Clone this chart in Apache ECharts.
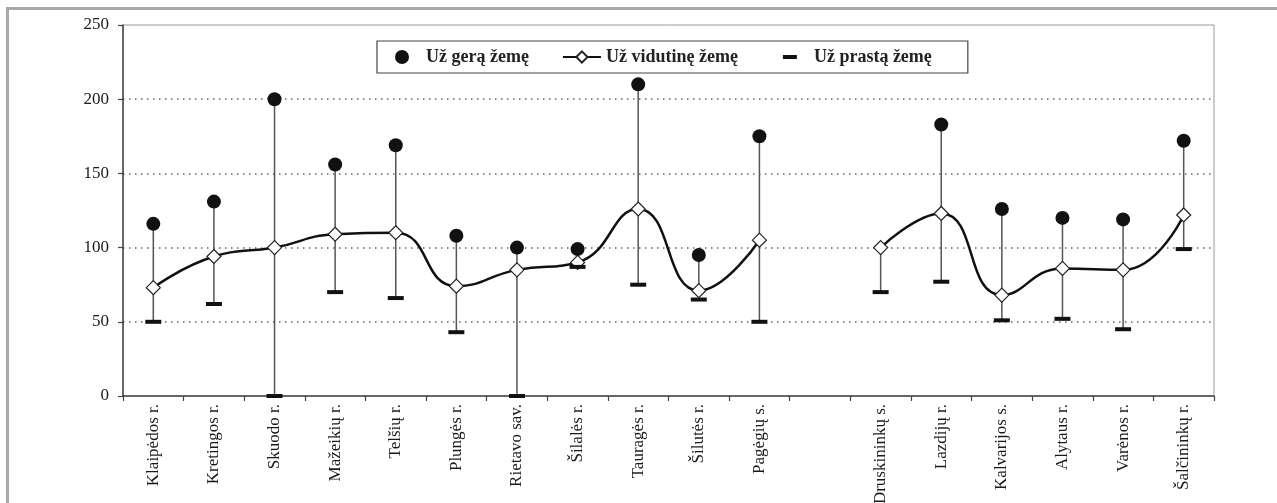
<!DOCTYPE html>
<html>
<head>
<meta charset="utf-8">
<script src="https://cdn.jsdelivr.net/npm/echarts@6/dist/echarts.min.js"></script>
<style>
  html, body { margin: 0; padding: 0; background: #fff; }
  #chart { width: 1277px; height: 503px; }
</style>
</head>
<body>
<div id="chart"></div>
<script>
const categories = ['Klaipėdos r.', 'Kretingos r.', 'Skuodo r.', 'Mažeikių r.', 'Telšių r.', 'Plungės r.', 'Rietavo sav.', 'Šilalės r.', 'Tauragės r.', 'Šilutės r.', 'Pagėgių s.', '', 'Druskininkų s.', 'Lazdijų r.', 'Kalvarijos s.', 'Alytaus r.', 'Varėnos r.', 'Šalčininkų r.'];
const goodLand   = [116, 131, 200, 156, 169, 108, 100, 99, 210, 95, 175, null, null, 183, 126, 120, 119, 172];
const mediumLand = [73, 94, 100, 109, 110, 74, 85, 90, 126, 71, 105, null, 100, 123, 68, 86, 85, 122];
const poorLand   = [50, 62, 0, 70, 66, 43, 0, 87, 75, 65, 50, null, 70, 77, 51, 52, 45, 99];
const yTicks = { min: 0, max: 250, interval: 50 };
const legendNames = ['Už gerą žemę', 'Už vidutinę žemę', 'Už prastą žemę'];

const rangeData = categories.map((c, i) => {
  const lo = poorLand[i];
  const hi = goodLand[i] != null ? goodLand[i] : mediumLand[i];
  return (lo == null || hi == null) ? [i, null, null] : [i, lo, hi];
});

const serif = '"Liberation Serif", "Times New Roman", serif';
const chart = echarts.init(document.getElementById('chart'), null, { renderer: 'canvas' });

chart.setOption({
  backgroundColor: '#fff',
  animation: false,
  graphic: [{
    type: 'rect', z: -10, silent: true,
    shape: { x: 7.5, y: 8.5, width: 1400, height: 700 },
    style: { fill: 'none', stroke: '#a8a8a8', lineWidth: 3 }
  }],
  grid: {
    left: 123, right: 63, top: 25, bottom: 107,
    outerBoundsMode: 'none',
    containLabel: false,
    show: true, borderColor: '#9a9a9a', borderWidth: 1, backgroundColor: 'transparent'
  },
  legend: {
    left: 377, top: 41,
    padding: [7, 36, 7, 18],
    itemWidth: 38, itemHeight: 14, itemGap: 33,
    borderColor: '#444', borderWidth: 1.2, backgroundColor: '#fff',
    textStyle: { fontFamily: serif, fontSize: 18, fontWeight: 'bold', color: '#222' },
    data: [
      { name: legendNames[0], icon: 'circle' },
      { name: legendNames[1] },
      { name: legendNames[2], icon: 'path://M0,0 L0.01,0 L0,0.01 Z M12,5 L26,5 L26,9 L12,9 Z M38,14 L37.99,14 L38,13.99 Z' }
    ]
  },
  xAxis: {
    type: 'category',
    data: categories,
    boundaryGap: true,
    axisLine: { lineStyle: { color: '#444', width: 1.5 } },
    axisTick: { show: true, length: 5, interval: 0, lineStyle: { color: '#444', width: 1.2 } },
    axisLabel: { interval: 0, rotate: 90, margin: 8, fontFamily: serif, fontSize: 17, color: '#1a1a1a' },
    splitLine: { show: false }
  },
  yAxis: {
    type: 'value',
    min: yTicks.min, max: yTicks.max, interval: yTicks.interval,
    axisLine: { show: true, lineStyle: { color: '#444', width: 1.5 } },
    axisTick: { show: true, length: 5, lineStyle: { color: '#444', width: 1.2 } },
    axisLabel: { margin: 14, fontFamily: serif, fontSize: 17, color: '#1a1a1a' },
    splitLine: {
      show: true, showMinLine: false, showMaxLine: false,
      lineStyle: { color: '#666', width: 1.5, type: [1.5, 4.5] }
    }
  },
  series: [
    {
      name: 'range',
      type: 'custom',
      data: rangeData,
      encode: { x: 0, y: [1, 2] },
      z: 1,
      silent: true,
      renderItem: function (params, api) {
        const lo = api.value(1), hi = api.value(2);
        if (lo == null || hi == null || isNaN(lo) || isNaN(hi)) return null;
        const p1 = api.coord([api.value(0), lo]);
        const p2 = api.coord([api.value(0), hi]);
        return {
          type: 'line',
          shape: { x1: p1[0], y1: p1[1], x2: p2[0], y2: p2[1] },
          style: { stroke: '#555', lineWidth: 1.5 }
        };
      }
    },
    {
      name: legendNames[1],
      type: 'line',
      data: mediumLand,
      smooth: 0.5,
      connectNulls: false,
      z: 3,
      symbol: 'diamond',
      symbolSize: 14,
      showAllSymbol: true,
      lineStyle: { color: '#111', width: 2.5 },
      itemStyle: { color: '#fff', borderColor: '#222', borderWidth: 1.2, opacity: 1 }
    },
    {
      name: legendNames[0],
      type: 'scatter',
      data: goodLand,
      z: 4,
      symbol: 'circle',
      symbolSize: 14,
      itemStyle: { color: '#111', opacity: 1 }
    },
    {
      name: legendNames[2],
      type: 'scatter',
      data: poorLand,
      z: 4,
      symbol: 'rect',
      symbolSize: [16, 4],
      itemStyle: { color: '#111', opacity: 1 }
    }
  ]
});
</script>
</body>
</html>
